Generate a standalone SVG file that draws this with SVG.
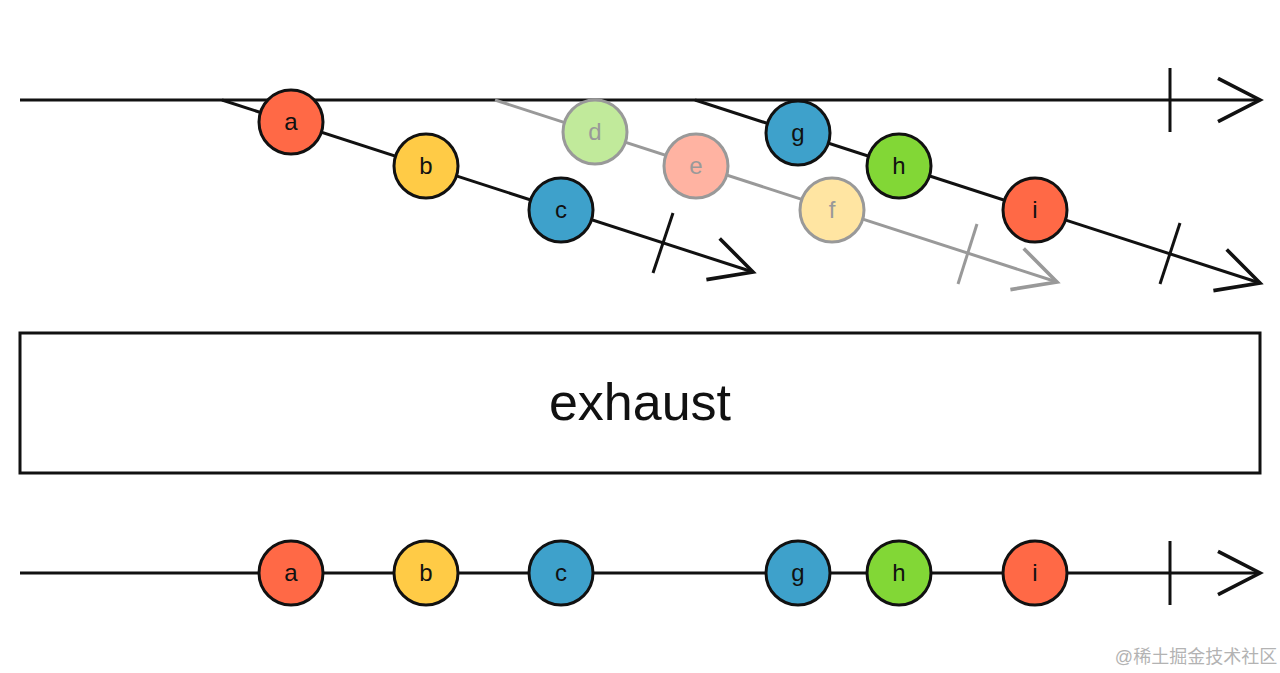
<svg xmlns="http://www.w3.org/2000/svg" width="1280" height="673" viewBox="0 0 1280 673">
<style>
.ln{fill:none;stroke:#111;stroke-width:3}
.gl{fill:none;stroke:#999;stroke-width:3}
.mb{fill:none;stroke:#111;stroke-width:3;stroke-linecap:butt}
.mg{fill:none;stroke:#999;stroke-width:3}
.c circle{stroke:#111;stroke-width:3}
.f circle{stroke:#999;stroke-width:3}
.c text{fill:#111}
.f text{fill:#999}
text{font-family:"Liberation Sans",Arial,sans-serif;text-anchor:middle}
.lb{font-size:24px}
.red{fill:#FF6946}.yel{fill:#FFCB46}.blu{fill:#3EA1CB}.grn{fill:#82D736}
.fgrn{fill:#C1EA9B}.fred{fill:#FFB3A2}.fyel{fill:#FFE5A2}
</style>
<defs>
<marker id="ab" markerUnits="userSpaceOnUse" markerWidth="60" markerHeight="60" refX="0" refY="0" viewBox="-40 -25 50 50" orient="auto" overflow="visible">
<path class="mb" d="M-35,-18 L0,0 L-35,18"/>
</marker>
<marker id="ag" markerUnits="userSpaceOnUse" markerWidth="60" markerHeight="60" refX="0" refY="0" viewBox="-40 -25 50 50" orient="auto" overflow="visible">
<path class="mg" d="M-35,-18 L0,0 L-35,18"/>
</marker>
</defs>
<rect width="1280" height="673" fill="#fff"/>
<g id="connectors">
<line class="ln" x1="20" y1="100" x2="1260" y2="100" marker-end="url(#ab)"/>
<line class="ln" x1="1170" y1="68" x2="1170" y2="132"/>
<line class="ln" x1="222" y1="100" x2="753" y2="272" marker-end="url(#ab)"/>
<line class="ln" x1="673" y1="213" x2="653" y2="273"/>
<line class="gl" x1="495" y1="100" x2="1057" y2="282" marker-end="url(#ag)"/>
<line class="gl" x1="977" y1="224" x2="958" y2="284"/>
<line class="ln" x1="695" y1="100" x2="1260" y2="283" marker-end="url(#ab)"/>
<line class="ln" x1="1180" y1="223" x2="1160" y2="284"/>
<line class="ln" x1="20" y1="573" x2="1260" y2="573" marker-end="url(#ab)"/>
<line class="ln" x1="1170" y1="541" x2="1170" y2="605"/>
</g>
<g id="node-a" class="c"><circle class="red" cx="291" cy="122" r="32"/><text class="lb" x="291" y="130">a</text></g>
<g id="node-b" class="c"><circle class="yel" cx="426" cy="166" r="32"/><text class="lb" x="426" y="174">b</text></g>
<g id="node-c" class="c"><circle class="blu" cx="561" cy="210" r="32"/><text class="lb" x="561" y="218">c</text></g>
<g id="node-d" class="f"><circle class="fgrn" cx="595" cy="132" r="32"/><text class="lb" x="595" y="140">d</text></g>
<g id="node-e" class="f"><circle class="fred" cx="696" cy="166" r="32"/><text class="lb" x="696" y="174">e</text></g>
<g id="node-f" class="f"><circle class="fyel" cx="832" cy="210" r="32"/><text class="lb" x="832" y="218">f</text></g>
<g id="node-g" class="c"><circle class="blu" cx="798" cy="133" r="32"/><text class="lb" x="798" y="141">g</text></g>
<g id="node-h" class="c"><circle class="grn" cx="899" cy="166" r="32"/><text class="lb" x="899" y="174">h</text></g>
<g id="node-i" class="c"><circle class="red" cx="1035" cy="210" r="32"/><text class="lb" x="1035" y="218">i</text></g>
<g id="operator">
<rect x="20" y="333" width="1240" height="140" fill="#fff" stroke="#111" stroke-width="3"/>
<text x="640" y="420" font-size="52" fill="#111">exhaust</text>
</g>
<g id="out-a" class="c"><circle class="red" cx="291" cy="573" r="32"/><text class="lb" x="291" y="581">a</text></g>
<g id="out-b" class="c"><circle class="yel" cx="426" cy="573" r="32"/><text class="lb" x="426" y="581">b</text></g>
<g id="out-c" class="c"><circle class="blu" cx="561" cy="573" r="32"/><text class="lb" x="561" y="581">c</text></g>
<g id="out-g" class="c"><circle class="blu" cx="798" cy="573" r="32"/><text class="lb" x="798" y="581">g</text></g>
<g id="out-h" class="c"><circle class="grn" cx="899" cy="573" r="32"/><text class="lb" x="899" y="581">h</text></g>
<g id="out-i" class="c"><circle class="red" cx="1035" cy="573" r="32"/><text class="lb" x="1035" y="581">i</text></g>
<text x="1196" y="663" font-size="18" fill="#b3b3b3" style="font-family:'Liberation Sans','Noto Sans CJK SC',sans-serif">@稀土掘金技术社区</text>
</svg>
